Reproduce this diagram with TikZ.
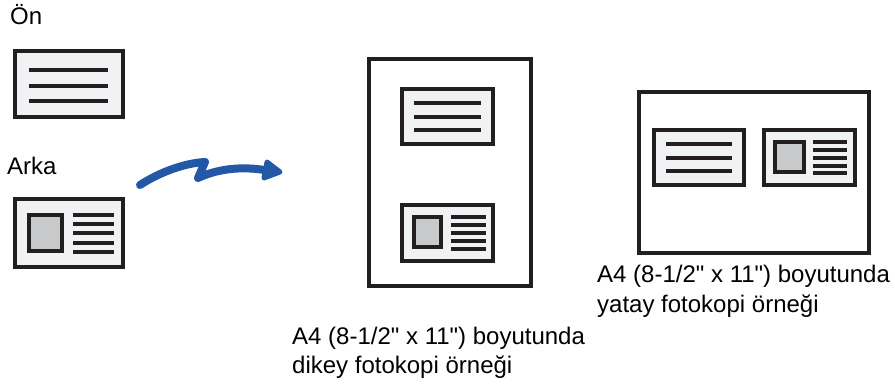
\documentclass[tikz,border=0pt]{standalone}
\usepackage{fontspec}
\setmainfont{Liberation Sans}[Ligatures=TeXOff]
\definecolor{ink}{HTML}{231F20}
\definecolor{cardfill}{HTML}{F1F2F4}
\definecolor{photofill}{HTML}{C8C9CB}
\definecolor{arrowblue}{HTML}{2358A7}
\tikzset{
  card/.style={draw=ink, fill=cardfill, line width=4pt},
  photo/.style={draw=ink, fill=photofill, line width=4pt},
  txtline/.style={draw=ink, line width=4pt},
  smallline/.style={draw=ink, line width=3.5pt},
  page/.style={draw=ink, fill=white, line width=3.5pt},
  lbl/.style={font=\fontsize{24}{30}\selectfont, inner sep=0pt, anchor=base west},
}
\begin{document}
\begin{tikzpicture}[x=1pt,y=-1pt]
\useasboundingbox (0,0) rectangle (895,385);
% labels left
\node[lbl] (on) at (10,25) {Ön};
\node[lbl] (arka) at (7,175) {Arka};
% front card left
\path[card] (15,51) rectangle (123,117);
\foreach \yy in {70,86,101} \path[txtline] (29,\yy) -- (108,\yy);
% back card left
\path[card] (15,199) rectangle (123,267);
\path[photo] (29,215) rectangle (62,251);
\foreach \yy in {215,224,233,243,252} \path[smallline] (73,\yy) -- (114,\yy);
% arrow
\coordinate (a0) at (140,185);
\coordinate (a1) at (205,162);
\coordinate (a2) at (198,178);
\coordinate (a3) at (270,171);
\draw[arrowblue, line width=8pt, line cap=round, line join=round]
  (a0) .. controls (160,172) and (185,163) .. (a1) -- (a2) .. controls (215,170) and (240,165) .. (a3);
\coordinate (h1) at (267,162);
\coordinate (h2) at (280,172);
\coordinate (h3) at (264,178);
\filldraw[arrowblue, line width=5pt, line join=round] (h1) -- (h2) -- (h3) -- cycle;
% middle page
\path[page] (369,59) rectangle (531,286);
\path[card] (402,89) rectangle (493,144);
\foreach \yy in {103,117,130} \path[txtline] (414,\yy) -- (481,\yy);
\path[card] (402,205) rectangle (493,261);
\path[photo] (414,217) rectangle (441,247);
\foreach \yy in {217,225,233,241,249} \path[smallline] (451,\yy) -- (486,\yy);
\node[lbl] (cap1a) at (292,344) {A4 (8-1/2" x 11") boyutunda};
\node[lbl] (cap1b) at (292,373) {dikey fotokopi örneği};
% right page
\path[page] (639,92) rectangle (869,253);
\path[card] (654,130) rectangle (744,185);
\foreach \yy in {144,158,171} \path[txtline] (666,\yy) -- (732,\yy);
\path[card] (764,130) rectangle (855,185);
\path[photo] (775,142) rectangle (804,172);
\foreach \yy in {142,150,158,166,173} \path[smallline] (813,\yy) -- (847,\yy);
\node[lbl] (cap2a) at (597,282) {A4 (8-1/2" x 11") boyutunda};
\node[lbl] (cap2b) at (597,312) {yatay fotokopi örneği};
\end{tikzpicture}
\end{document}
